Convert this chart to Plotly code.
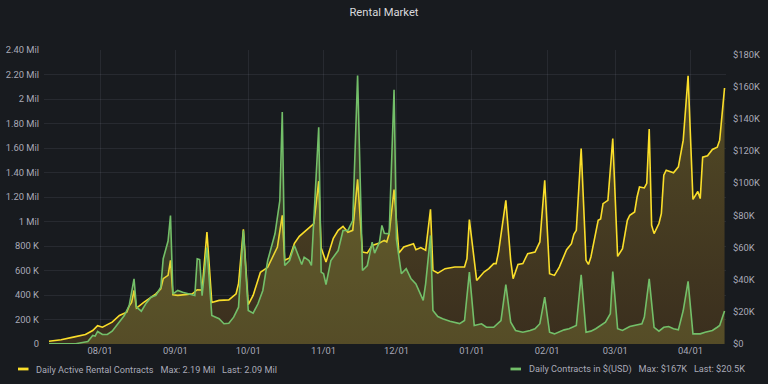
import plotly.graph_objects as go

# ---------------- data ----------------
contracts_dates = [
    "2021-07-11", "2021-07-16", "2021-07-21", "2021-07-26", "2021-07-29", "2021-07-31",
    "2021-08-02", "2021-08-04", "2021-08-06", "2021-08-09", "2021-08-12", "2021-08-13",
    "2021-08-14", "2021-08-15", "2021-08-16", "2021-08-19", "2021-08-22", "2021-08-24",
    "2021-08-26", "2021-08-27", "2021-08-29", "2021-08-30", "2021-08-31", "2021-09-02",
    "2021-09-06", "2021-09-08", "2021-09-10", "2021-09-12", "2021-09-14", "2021-09-16",
    "2021-09-19", "2021-09-23", "2021-09-26", "2021-09-27", "2021-09-29", "2021-10-01",
    "2021-10-03", "2021-10-06", "2021-10-09", "2021-10-11", "2021-10-13", "2021-10-15",
    "2021-10-16", "2021-10-18", "2021-10-20", "2021-10-22", "2021-10-25", "2021-10-28",
    "2021-10-30", "2021-10-31", "2021-11-02", "2021-11-05", "2021-11-07", "2021-11-09",
    "2021-11-11", "2021-11-13", "2021-11-15", "2021-11-17", "2021-11-19", "2021-11-21",
    "2021-11-24", "2021-11-26", "2021-11-27", "2021-11-28", "2021-11-30", "2021-12-02",
    "2021-12-04", "2021-12-07", "2021-12-08", "2021-12-09", "2021-12-11", "2021-12-13",
    "2021-12-15", "2021-12-16", "2021-12-18", "2021-12-21", "2021-12-25", "2021-12-29",
    "2021-12-30", "2021-12-31", "2022-01-03", "2022-01-06", "2022-01-08", "2022-01-10",
    "2022-01-11", "2022-01-12", "2022-01-13", "2022-01-15", "2022-01-17", "2022-01-18",
    "2022-01-20", "2022-01-22", "2022-01-24", "2022-01-27", "2022-01-29", "2022-01-31",
    "2022-02-02", "2022-02-04", "2022-02-06", "2022-02-09", "2022-02-11", "2022-02-12",
    "2022-02-13", "2022-02-15", "2022-02-17", "2022-02-18", "2022-02-19", "2022-02-21",
    "2022-02-22", "2022-02-23", "2022-02-24", "2022-02-26", "2022-02-28", "2022-03-02",
    "2022-03-04", "2022-03-06", "2022-03-07", "2022-03-09", "2022-03-10", "2022-03-11",
    "2022-03-13", "2022-03-14", "2022-03-15", "2022-03-16", "2022-03-17", "2022-03-19",
    "2022-03-20", "2022-03-21", "2022-03-22", "2022-03-25", "2022-03-27", "2022-03-29",
    "2022-03-31", "2022-04-02", "2022-04-04", "2022-04-05", "2022-04-06", "2022-04-08",
    "2022-04-10", "2022-04-12", "2022-04-13", "2022-04-15",
]
contracts_k = [
    23, 34, 56, 78, 110, 149,
    137, 160, 178, 233, 260, 310,
    340, 437, 293, 339, 383, 410,
    451, 533, 560, 683, 402, 397,
    405, 410, 443, 440, 914, 339,
    356, 360, 410, 492, 936, 321,
    397, 585, 626, 710, 792, 1051,
    683, 703, 822, 879, 928, 983,
    1329, 785, 669, 863, 928, 961,
    912, 928, 1345, 751, 743, 805,
    824, 846, 833, 901, 1261, 743,
    792, 814, 819, 770, 787, 765,
    1100, 601, 579, 615, 628, 628,
    697, 1016, 519, 587, 615, 656,
    656, 751, 901, 1173, 683, 533,
    650, 656, 738, 751, 833, 1337,
    574, 560, 628, 770, 819, 895,
    928, 1596, 683, 650, 710, 914,
    1010, 1021, 1146, 1173, 1678, 715,
    778, 1010, 1051, 1078, 1200, 1282,
    1274, 1312, 1754, 969, 901, 983,
    1065, 1378, 1419, 1397, 1446, 1664,
    2190, 1180, 1245, 1187, 1525, 1537,
    1588, 1607, 1664, 2090,
]

usd_dates = [
    "2021-07-11", "2021-07-22", "2021-07-27", "2021-07-29", "2021-07-30", "2021-07-31",
    "2021-08-02", "2021-08-04", "2021-08-06", "2021-08-09", "2021-08-11", "2021-08-13",
    "2021-08-15", "2021-08-16", "2021-08-18", "2021-08-20", "2021-08-22", "2021-08-24",
    "2021-08-26", "2021-08-27", "2021-08-28", "2021-08-29", "2021-08-30", "2021-08-31",
    "2021-09-02", "2021-09-04", "2021-09-09", "2021-09-10", "2021-09-11", "2021-09-12",
    "2021-09-14", "2021-09-16", "2021-09-19", "2021-09-21", "2021-09-23", "2021-09-25",
    "2021-09-27", "2021-09-29", "2021-10-01", "2021-10-03", "2021-10-05", "2021-10-07",
    "2021-10-09", "2021-10-12", "2021-10-14", "2021-10-15", "2021-10-16", "2021-10-18",
    "2021-10-20", "2021-10-22", "2021-10-23", "2021-10-24", "2021-10-26", "2021-10-27",
    "2021-10-30", "2021-10-31", "2021-11-01", "2021-11-02", "2021-11-04", "2021-11-07",
    "2021-11-09", "2021-11-11", "2021-11-13", "2021-11-15", "2021-11-17", "2021-11-19",
    "2021-11-21", "2021-11-22", "2021-11-24", "2021-11-25", "2021-11-26", "2021-11-28",
    "2021-11-30", "2021-12-01", "2021-12-03", "2021-12-05", "2021-12-07", "2021-12-09",
    "2021-12-11", "2021-12-12", "2021-12-13", "2021-12-15", "2021-12-16", "2021-12-18",
    "2021-12-20", "2021-12-23", "2021-12-27", "2021-12-29", "2021-12-31", "2022-01-02",
    "2022-01-05", "2022-01-07", "2022-01-10", "2022-01-13", "2022-01-15", "2022-01-17",
    "2022-01-19", "2022-01-22", "2022-01-25", "2022-01-27", "2022-01-29", "2022-01-31",
    "2022-02-02", "2022-02-04", "2022-02-08", "2022-02-10", "2022-02-13", "2022-02-15",
    "2022-02-17", "2022-02-19", "2022-02-21", "2022-02-25", "2022-02-27", "2022-02-28",
    "2022-03-02", "2022-03-04", "2022-03-07", "2022-03-09", "2022-03-12", "2022-03-13",
    "2022-03-15", "2022-03-17", "2022-03-19", "2022-03-21", "2022-03-23", "2022-03-25",
    "2022-03-27", "2022-03-29", "2022-03-31", "2022-04-02", "2022-04-05", "2022-04-07",
    "2022-04-10", "2022-04-12", "2022-04-13", "2022-04-15",
]
usd_k = [
    0.2, 0.2, 1.6, 5.3, 4.9, 7.8,
    5.9, 5.9, 8.0, 13.6, 17.7, 23.9,
    40.5, 22.9, 20.4, 25.4, 29.1, 30.2,
    35.3, 53, 58, 64, 79.9, 31.2,
    33.3, 32.2, 30.2, 53, 52.5, 30,
    60, 17.7, 15.7, 12.6, 12.9, 16.7,
    22.9, 70.6, 20.8, 19.2, 25, 33.3,
    51.9, 68.5, 89.2, 144.2, 48.8, 51.9,
    61.3, 53, 49.4, 54, 51.9, 48.8,
    134.8, 44.7, 43.7, 37, 51.9, 58.1,
    70.6, 70.6, 76.8, 167, 45.7, 48.8,
    63.3, 56.5, 63.3, 73.7, 68.9, 68.5,
    158.1, 65, 43.7, 46.8, 40.5, 37.4,
    31.2, 27.1, 37.4, 67.5, 20.8, 17.1,
    15.7, 14.2, 12.7, 14.6, 44.7, 11.5,
    12.6, 10.4, 10.4, 14.6, 37, 13.6,
    8.4, 7.3, 8.4, 9.5, 12.6, 29.1,
    7.3, 6.3, 8.8, 9.5, 11.5, 43,
    7.3, 8, 9.5, 13.6, 18.8, 45.1,
    9.5, 8.4, 10.9, 11.5, 12.6, 16.7,
    40.5, 10.4, 8, 10.4, 10.9, 9.5,
    8.8, 20.8, 38.9, 6.3, 6.3, 7.3,
    8.4, 10.4, 11.5, 20.5,
]

month_ticks = ["2021-08-01", "2021-09-01", "2021-10-01", "2021-11-01", "2021-12-01",
               "2022-01-01", "2022-02-01", "2022-03-01", "2022-04-01"]
left_tickvals = [0, 200e3, 400e3, 600e3, 800e3, 1e6, 1.2e6, 1.4e6, 1.6e6, 1.8e6, 2e6, 2.2e6, 2.4e6]
left_ticktext = ["0", "200 K", "400 K", "600 K", "800 K", "1 Mil", "1.20 Mil", "1.40 Mil",
                 "1.60 Mil", "1.80 Mil", "2 Mil", "2.20 Mil", "2.40 Mil"]
right_tickvals = [0, 20e3, 40e3, 60e3, 80e3, 100e3, 120e3, 140e3, 160e3, 180e3]
right_ticktext = ["$0", "$20K", "$40K", "$60K", "$80K", "$100K", "$120K", "$140K", "$160K", "$180K"]

series1_name = "Daily Active Rental Contracts"
series2_name = "Daily Contracts in $(USD)"
GAP = "\u00a0\u00a0\u00a0"
legend1 = GAP.join([series1_name, "Max: 2.19 Mil", "Last: 2.09 Mil"])
legend2 = GAP.join([series2_name, "Max: $167K", "Last: $20.5K"])

# ---------------- figure ----------------
BG = "#181b1f"
TXT = "rgba(204,204,220,0.82)"
GRID = "rgba(204,204,220,0.09)"
YELLOW = "#FADE2A"
GREEN = "#73BF69"
FONT = "Roboto"
FS = 9.4
LFS = 9.2

fig = go.Figure()
fig.add_trace(go.Scatter(
    x=contracts_dates, y=[v * 1000 for v in contracts_k], name=series1_name,
    mode="lines", line=dict(color=YELLOW, width=1.6), fill="tozeroy",
    fillgradient=dict(type="vertical", start=0, stop=2.2e6,
                      colorscale=[[0, "rgb(58,46,30)"], [1, "rgb(84,76,38)"]]),
    yaxis="y",
))
fig.add_trace(go.Scatter(
    x=usd_dates, y=[v * 1000 for v in usd_k], name=series2_name,
    mode="lines", line=dict(color=GREEN, width=1.6), fill="tozeroy",
    fillcolor="rgba(180,185,75,0.22)",
    yaxis="y2",
))

fig.update_layout(
    width=768, height=384,
    paper_bgcolor=BG, plot_bgcolor=BG,
    margin=dict(l=44, r=42, t=50, b=40, autoexpand=False),
    showlegend=False,
    font=dict(family=FONT, size=FS, color=TXT),
    title=dict(text="Rental Market", x=0.5, xanchor="center", y=1 - 12.3 / 384, yanchor="middle",
               font=dict(family=FONT, size=11.2, color="#d8d9dc")),
    xaxis=dict(range=["2021-07-08 22:48", "2022-04-15 14:24"], type="date",
               tickvals=month_ticks, tickformat="%m/%d", showgrid=True, gridcolor=GRID,
               zeroline=False, showline=False, ticks="", tickfont=dict(size=FS, color=TXT)),
    yaxis=dict(range=[0, 2.4e6], tickvals=left_tickvals, ticktext=left_ticktext,
               showgrid=True, gridcolor=GRID, zeroline=False, showline=False, ticks="",
               ticklabelstandoff=4, tickfont=dict(size=FS, color=TXT)),
    yaxis2=dict(range=[0, 182.8e3], overlaying="y", side="right", tickvals=right_tickvals,
                ticktext=right_ticktext, showgrid=False, zeroline=False, showline=False,
                ticks="", ticklabelstandoff=6, tickfont=dict(size=FS, color=TXT)),
)

# legend (Grafana-style bottom legend split left/right)
def px_x(p):
    return (p - 44) / 682.0

def px_y(p):
    return (344 - p) / 294.0

fig.add_shape(type="rect", xref="paper", yref="paper", x0=px_x(18), x1=px_x(28.5),
              y0=px_y(367.6), y1=px_y(370.4), fillcolor=YELLOW, line=dict(width=0), layer="above")
fig.add_shape(type="rect", xref="paper", yref="paper", x0=px_x(510.5), x1=px_x(521),
              y0=px_y(367.6), y1=px_y(370.4), fillcolor=GREEN, line=dict(width=0), layer="above")
fig.add_annotation(text=legend1, xref="paper", yref="paper", x=px_x(34), y=px_y(369),
                   xanchor="left", yanchor="middle", showarrow=False,
                   font=dict(family=FONT, size=LFS, color=TXT))
fig.add_annotation(text=legend2, xref="paper", yref="paper", x=px_x(527), y=px_y(369),
                   xanchor="left", yanchor="middle", showarrow=False,
                   font=dict(family=FONT, size=LFS, color=TXT))

fig.write_html("out.html", config={"displayModeBar": False},
               post_script="document.body.style.margin='0';document.body.style.padding='0';")
